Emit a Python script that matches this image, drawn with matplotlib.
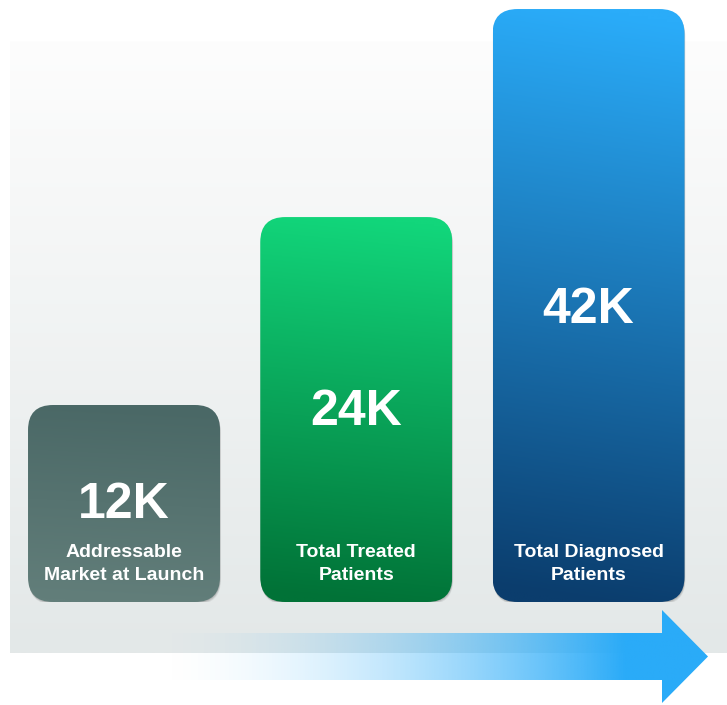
import numpy as np
import matplotlib
matplotlib.use("Agg")
import matplotlib.pyplot as plt
from matplotlib.patches import FancyBboxPatch, Polygon
from matplotlib.colors import to_rgb

# data
values = ["12K", "24K", "42K"]
labels = ["Addressable\nMarket at Launch", "Total Treated\nPatients", "Total Diagnosed\nPatients"]
bar_heights = [1.0, 1.954, 3.01]   # drawn heights, relative to the first bar
top_colors = ["#4a6866", "#12d67b", "#2aacf9"]
bottom_colors = ["#627e7a", "#017237", "#0b3d6d"]

plt.rcParams['font.family'] = ['Liberation Sans', 'DejaVu Sans']

W, H = 727, 705
fig = plt.figure(figsize=(W / 100, H / 100), dpi=100)

# background panel + arrow, in pixel coords
bg = fig.add_axes([0, 0, 1, 1])
bg.set_xlim(0, W)
bg.set_ylim(H, 0)
bg.axis("off")

c0 = np.array(to_rgb("#fdfdfd"))
c1 = np.array(to_rgb("#e3e8e8"))
t = np.linspace(0, 1, 256)[:, None, None]
panel = c0 * (1 - t) + c1 * t
bg.imshow(panel, extent=(10, W, 653, 41), aspect="auto", zorder=0)

arrow = Polygon([(150, 633), (662, 633), (662, 610), (708, 656.5),
                 (662, 703), (662, 680), (150, 680)], closed=True,
                facecolor="none", edgecolor="none")
bg.add_patch(arrow)
xs = np.linspace(150, 708, 400)
a = np.clip((xs - 150) / (625 - 150), 0, 1) ** 1.8
grad = np.zeros((2, len(xs), 4))
grad[..., :3] = to_rgb("#2aabf8")
grad[..., 3] = a
im = bg.imshow(grad, extent=(150, 708, 703, 610), aspect="auto", zorder=1)
im.set_clip_path(arrow)
bg.set_xlim(0, W)
bg.set_ylim(H, 0)

# bars
ax = fig.add_axes([7.9 / W, 103 / H, 696.75 / W, 602 / H])
ax.patch.set_alpha(0)
unit = 197.0  # px per height unit
x_px = 232.25  # px per category
ymax = 602 / unit
bw = 192 / x_px
rx = 25 / x_px
ry = 25 / unit

for i, h in enumerate(bar_heights):
    x0 = i - bw / 2
    # soft shadow
    for k, al in [(3, 0.06), (2, 0.08), (1, 0.10)]:
        sh = FancyBboxPatch((x0 + 0.3 * k / x_px, -k * 0.9 / unit), bw, h,
                            boxstyle=f"round,pad=0,rounding_size={rx}",
                            mutation_aspect=ry / rx, facecolor="black",
                            edgecolor="none", alpha=al, zorder=1)
        ax.add_patch(sh)
    bar = FancyBboxPatch((x0, 0), bw, h,
                         boxstyle=f"round,pad=0,rounding_size={rx}",
                         mutation_aspect=ry / rx, facecolor="none",
                         edgecolor="none", zorder=2)
    ax.add_patch(bar)
    ct = np.array(to_rgb(top_colors[i]))
    cb = np.array(to_rgb(bottom_colors[i]))
    yy = np.linspace(0, 1, 200)[:, None]
    xx = np.linspace(0, 1, 60)[None, :]
    s = np.clip(yy + 0.05 * (0.5 - xx), 0, 1)
    img = ct * (1 - s[..., None]) + cb * s[..., None]
    g = ax.imshow(img, extent=(x0, x0 + bw, 0, h), aspect="auto", zorder=2)
    g.set_clip_path(bar)
    ax.text(i, h * 0.493, values[i], ha="center", va="center", color="white",
            fontsize=36, fontweight="bold", zorder=3)
    ax.text(i, 38 / unit, labels[i], ha="center", va="center", color="white",
            fontsize=14, fontweight="bold", linespacing=1.45, zorder=3)

ax.set_xlim(-0.5, 2.5)
ax.set_ylim(0, ymax)
ax.axis("off")

fig.savefig("out.png", dpi=100)
